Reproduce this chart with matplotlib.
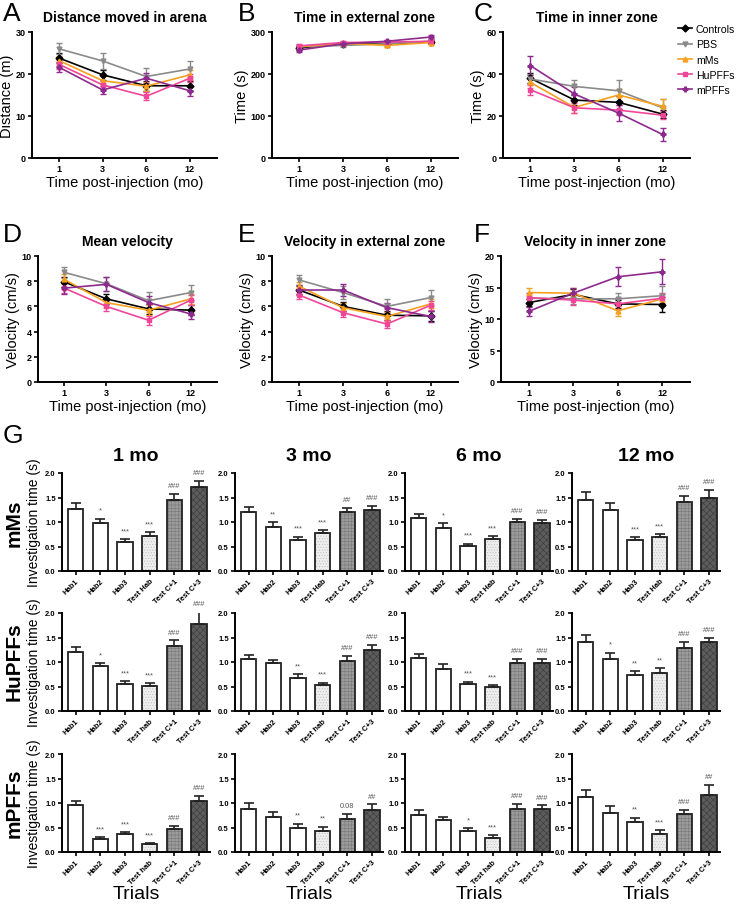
"""
Open field + novel object test figure (panels A-G)
"""
import matplotlib
matplotlib.use('Agg')
import matplotlib.pyplot as plt
from matplotlib.lines import Line2D
import numpy as np

plt.rcParams['font.family'] = ['Liberation Sans', 'DejaVu Sans']
plt.rcParams['axes.linewidth'] = 1.4
plt.rcParams['hatch.linewidth'] = 0.4

# ---- line panels data ----
months = ['1', '3', '6', '12']
groups = ['Controls', 'PBS', 'mMs', 'HuPFFs', 'mPFFs']
colors = ['#000000', '#8a8a8a', '#f5a01f', '#f0469a', '#8e2a8e']
markers = ['D', 'v', '^', 's', 'P']

dist_mean = [[23.8, 19.8, 17.2, 17.2], [26.0, 23.1, 19.4, 21.2], [23.2, 18.4, 17.1, 19.8],
             [22.3, 17.4, 14.7, 19.0], [21.6, 16.2, 19.0, 16.0]]
dist_err = [[1.2, 1.2, 1.2, 1.2], [1.3, 2.0, 2.0, 1.8], [1.2, 1.1, 1.1, 1.2],
            [1.0, 1.0, 1.0, 1.0], [1.2, 1.0, 1.2, 1.2]]
ext_mean = [[262, 272, 272, 277], [265, 268, 272, 278], [265, 273, 268, 275],
            [267, 275, 276, 278], [257, 272, 278, 288]]
ext_err = [[4, 4, 4, 4], [4, 4, 4, 4], [4, 4, 4, 4], [4, 4, 4, 4], [5, 4, 4, 5]]
inner_mean = [[38.0, 27.6, 26.5, 20.9], [37.6, 34.1, 32.0, 23.9], [36.0, 24.1, 30.0, 24.6],
              [32.5, 23.9, 22.8, 20.4], [44.0, 30.5, 21.4, 11.2]]
inner_err = [[2.5, 2.5, 3.0, 2.0], [2.5, 3.0, 5.0, 4.0], [2.5, 2.5, 3.0, 3.5],
             [2.5, 2.5, 2.5, 2.0], [4.5, 3.5, 4.0, 3.3]]
vel_mean = [[7.95, 6.6, 5.8, 5.7], [8.7, 7.8, 6.45, 7.1], [8.15, 6.3, 5.7, 6.6],
            [7.45, 6.0, 4.9, 6.5], [7.45, 7.75, 6.3, 5.4]]
vel_err = [[0.4, 0.4, 0.4, 0.4], [0.45, 0.55, 0.7, 0.6], [0.4, 0.4, 0.4, 0.4],
           [0.4, 0.4, 0.35, 0.4], [0.5, 0.55, 0.5, 0.4]]
vext_mean = [[7.3, 6.0, 5.3, 5.25], [8.1, 7.1, 6.0, 6.7], [7.6, 5.9, 5.2, 6.2],
             [6.9, 5.5, 4.6, 6.1], [7.3, 7.3, 5.9, 5.2]]
vext_err = [[0.35, 0.35, 0.35, 0.4], [0.4, 0.5, 0.6, 0.6], [0.35, 0.35, 0.35, 0.35],
            [0.35, 0.35, 0.3, 0.35], [0.4, 0.45, 0.4, 0.4]]
vin_mean = [[12.6, 13.9, 12.4, 12.3], [13.3, 13.2, 13.2, 13.7], [14.2, 14.1, 11.3, 13.2],
            [13.4, 13.0, 12.4, 13.3], [11.2, 14.1, 16.7, 17.5]]
vin_err = [[0.6, 0.8, 0.6, 1.2], [0.8, 0.8, 1.0, 1.5], [0.8, 0.8, 0.8, 0.8],
           [0.8, 0.8, 0.8, 0.8], [0.7, 0.8, 1.5, 2.0]]

# ---- bar panels data (rows: mMs, HuPFFs, mPFFs; cols: 1, 3, 6, 12 mo) ----
rows = ['mMs', 'HuPFFs', 'mPFFs']
cols = ['1 mo', '3 mo', '6 mo', '12 mo']
trials_upper = ['Hab1', 'Hab2', 'Hab3', 'Test Hab', 'Test C+1', 'Test C+3']
trials_lower = ['Hab1', 'Hab2', 'Hab3', 'Test hab', 'Test C+1', 'Test C+3']

inv_mean = [
    [[1.27, 0.97, 0.60, 0.72, 1.45, 1.71], [1.20, 0.90, 0.64, 0.78, 1.21, 1.25],
     [1.08, 0.88, 0.52, 0.65, 0.99, 0.97], [1.44, 1.24, 0.63, 0.70, 1.40, 1.49]],
    [[1.21, 0.91, 0.55, 0.52, 1.33, 1.78], [1.06, 0.97, 0.68, 0.54, 1.03, 1.24],
     [1.08, 0.86, 0.55, 0.48, 0.98, 0.97], [1.40, 1.06, 0.74, 0.78, 1.28, 1.40]],
    [[0.95, 0.27, 0.36, 0.16, 0.47, 1.05], [0.87, 0.72, 0.50, 0.43, 0.68, 0.85],
     [0.75, 0.65, 0.42, 0.29, 0.87, 0.87], [1.12, 0.80, 0.62, 0.37, 0.78, 1.16]],
]
inv_err = [
    [[0.12, 0.10, 0.05, 0.07, 0.12, 0.12], [0.10, 0.10, 0.06, 0.05, 0.08, 0.08],
     [0.09, 0.09, 0.04, 0.06, 0.07, 0.07], [0.17, 0.14, 0.06, 0.05, 0.14, 0.17]],
    [[0.10, 0.07, 0.06, 0.05, 0.11, 0.24], [0.09, 0.08, 0.07, 0.04, 0.10, 0.11],
     [0.08, 0.09, 0.05, 0.05, 0.09, 0.09], [0.15, 0.13, 0.07, 0.10, 0.12, 0.10]],
    [[0.10, 0.04, 0.05, 0.02, 0.06, 0.10], [0.12, 0.10, 0.08, 0.09, 0.10, 0.12],
     [0.10, 0.07, 0.06, 0.05, 0.11, 0.08], [0.14, 0.14, 0.08, 0.08, 0.08, 0.20]],
]
inv_sig = [
    [['', '*', '***', '***', '###', '###'], ['', '**', '***', '***', '##', '###'],
     ['', '*', '***', '***', '###', '###'], ['', '', '***', '***', '###', '###']],
    [['', '*', '***', '***', '###', '###'], ['', '', '**', '***', '###', '###'],
     ['', '', '***', '***', '###', '###'], ['', '*', '**', '**', '###', '###']],
    [['', '***', '***', '***', '###', '###'], ['', '', '**', '**', '0.08', '##'],
     ['', '', '*', '***', '###', '###'], ['', '', '**', '***', '###', '##']],
]

W, H = 740, 920
fig = plt.figure(figsize=(W / 100, H / 100), dpi=100)


def ax_px(left, top, right, bottom):
    return fig.add_axes([left / W, 1 - bottom / H, (right - left) / W, (bottom - top) / H])


def style_axes(ax, fs):
    ax.spines['top'].set_visible(False)
    ax.spines['right'].set_visible(False)
    ax.tick_params(direction='out', length=3, width=1.2, labelsize=fs, pad=1.5)
    for lab in ax.get_xticklabels() + ax.get_yticklabels():
        lab.set_fontweight('bold')


def line_panel(box, means, errs, title, ylabel, ylim, yticks, letter):
    ax = ax_px(*box)
    x = np.arange(len(months))
    for g in range(len(groups)):
        ax.errorbar(x, means[g], yerr=errs[g], color=colors[g], marker=markers[g],
                    markersize=3.5, linewidth=1.2, capsize=2.5, elinewidth=1.0)
    ax.set_xlim(-0.62, 3.62)
    ax.set_ylim(*ylim)
    ax.set_yticks(yticks)
    ax.set_xticks(x)
    ax.set_xticklabels(months)
    style_axes(ax, 6.5)
    ax.set_xlabel('Time post-injection (mo)', fontsize=10.5, labelpad=1)
    ax.set_ylabel(ylabel, fontsize=10.5, labelpad=1)
    ax.set_title(title, fontsize=10, weight='bold', pad=8)
    fig.text(letter[0] / W, 1 - letter[1] / H, letter[2], fontsize=19, va='center', ha='left')
    return ax


line_panel((32, 33, 217, 159), dist_mean, dist_err, 'Distance moved in arena',
           'Distance (m)', (0, 30), [0, 10, 20, 30], (3, 14, 'A'))
line_panel((272, 33, 458, 159), ext_mean, ext_err, 'Time in external zone',
           'Time (s)', (0, 300), [0, 100, 200, 300], (238, 14, 'B'))
line_panel((503, 33, 690, 159), inner_mean, inner_err, 'Time in inner zone',
           'Time (s)', (0, 60), [0, 20, 40, 60], (474, 14, 'C'))
line_panel((38, 257, 217, 383), vel_mean, vel_err, 'Mean velocity',
           'Velocity (cm/s)', (0, 10), [0, 2, 4, 6, 8, 10], (3, 235, 'D'))
line_panel((272, 257, 458, 383), vext_mean, vext_err, 'Velocity in external zone',
           'Velocity (cm/s)', (0, 10), [0, 2, 4, 6, 8, 10], (238, 235, 'E'))
line_panel((501, 257, 690, 383), vin_mean, vin_err, 'Velocity in inner zone',
           'Velocity (cm/s)', (0, 20), [0, 5, 10, 15, 20], (474, 235, 'F'))

handles = [Line2D([], [], color=colors[g], marker=markers[g], markersize=3.5, linewidth=1.2)
           for g in range(len(groups))]
fig.legend(handles, groups, loc='upper left', bbox_to_anchor=(678 / W, 1 - 25 / H),
           frameon=False, fontsize=7.6, handlelength=1.3, handletextpad=0.4,
           labelspacing=0.5, borderaxespad=0, borderpad=0)

# ---- panel G ----
fig.text(3 / W, 1 - 436 / H, 'G', fontsize=19, va='center', ha='left')
bar_face = ['white', 'white', 'white', '#eeeeee', '#9c9c9c', '#5c5c5c']
bar_hatch = [None, None, None, '......', '+++++', 'xxxxx']
hatch_col = ['white', 'white', 'white', '#bdbdbd', '#777777', '#3a3a3a']
lefts = [62, 235, 405, 572]
tops = [474, 614, 755]
for r in range(3):
    for c in range(4):
        ax = ax_px(lefts[c], tops[r], lefts[c] + 148, tops[r] + 98)
        x = np.arange(6)
        m = inv_mean[r][c]
        e = inv_err[r][c]
        for i in range(6):
            ax.bar(x[i], m[i], 0.62, color=bar_face[i], edgecolor=hatch_col[i],
                   linewidth=0, hatch=bar_hatch[i], zorder=1)
        ax.bar(x, m, 0.62, fill=False, edgecolor='#222222', linewidth=1.3, zorder=2)
        ax.errorbar(x, m, yerr=[np.zeros(6), e], fmt='none', ecolor='#222222',
                    elinewidth=1.2, capsize=3.5, capthick=1.2, zorder=3)
        for i in range(6):
            if inv_sig[r][c][i]:
                ax.text(x[i], m[i] + e[i] + 0.1, inv_sig[r][c][i], ha='center',
                        va='bottom', fontsize=5.3, color='#555555')
        ax.set_xlim(-0.55, 5.45)
        ax.set_ylim(0, 2.0)
        ax.set_yticks([0, 0.5, 1.0, 1.5, 2.0])
        ax.set_yticklabels(['0.0', '0.5', '1.0', '1.5', '2.0'])
        ax.set_xticks(x)
        ax.set_xticklabels(trials_upper if r == 0 else trials_lower, rotation=45,
                           ha='right', rotation_mode='anchor')
        style_axes(ax, 5.5)
        ax.tick_params(axis='x', length=3, pad=1.5)
        if c == 0:
            ax.set_ylabel('Investigation time (s)', fontsize=10, labelpad=3)
        if r == 0:
            ax.set_title(cols[c], fontsize=14, weight='bold', pad=9)
        if r == 2:
            ax.set_xlabel('Trials', fontsize=14, labelpad=0)

for r, yc in enumerate([523, 662, 803]):
    fig.text(14 / W, 1 - yc / H, rows[r], rotation=90, fontsize=15, weight='bold',
             va='center', ha='center')

plt.savefig('out.png', dpi=100)
